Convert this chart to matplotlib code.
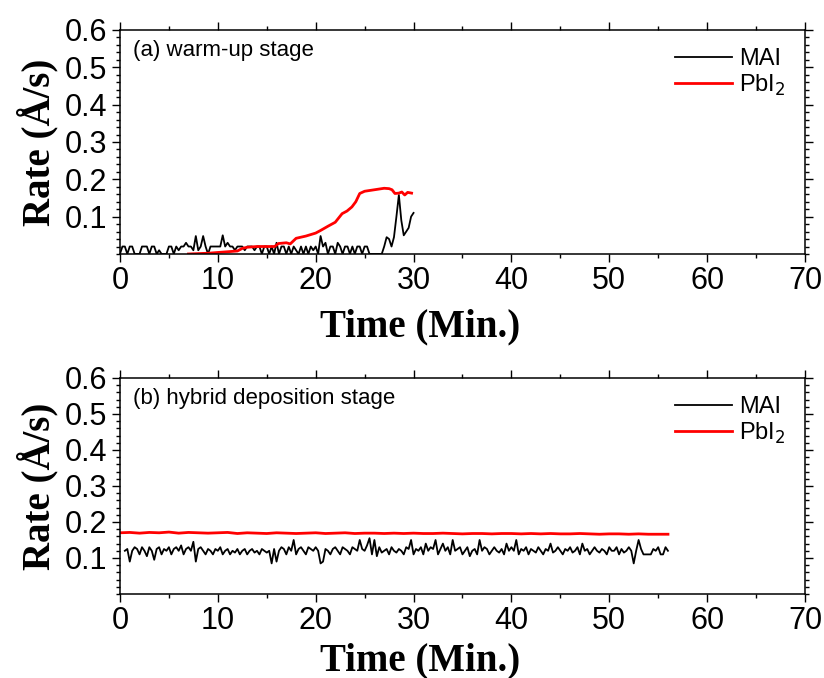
import numpy as np
import matplotlib.pyplot as plt
from matplotlib.ticker import MultipleLocator

# ---- data ----
# (a) warm-up stage, MAI sampled every 0.25 min from t = 0
mai_a = [
    0, 0.02, 0.02, 0, 0.02, 0.02, 0, 0, 0, 0.02, 0.02, 0.02, 0, 0.02, 0.02, 0, 0.01, 0, 0, 0,
    0.02, 0.02, 0, 0.02, 0.01, 0.02, 0.02, 0.03, 0.02, 0.02, 0.01, 0.048, 0.01, 0.02, 0.048, 0.02, 0, 0.02, 0.02, 0.02,
    0.02, 0.02, 0.05, 0.02, 0.03, 0.02, 0.02, 0.01, 0.02, 0.02, 0.02, 0.01, 0.02, 0.02, 0.02, 0.01, 0.02, 0.02, 0, 0.02,
    0.02, 0, 0.02, 0, 0.03, 0, 0.02, 0.02, 0, 0.02, 0, 0.02, 0.01, 0, 0.02, 0, 0.02, 0, 0.02, 0.01,
    0.02, 0, 0.048, 0.02, 0.03, 0, 0.02, 0.02, 0, 0.03, 0.02, 0, 0.02, 0.02, 0, 0.02, 0, 0.02, 0.02, 0,
    0.02, 0.02, 0, 0, 0, 0, 0, 0, 0.02, 0.045, 0.04, 0.02, 0.045, 0.1, 0.158, 0.09, 0.05, 0.06, 0.07, 0.1,
    0.11,
]
pbi_a_t = [7, 9, 11, 12, 12.5, 13, 14, 15, 15.8, 16.2, 17.0, 17.4, 18, 19, 20, 20.5, 21.3, 22, 22.7, 23.2,
           23.7, 24.1, 24.5, 25, 25.5, 26, 26.5, 27, 27.5, 27.8, 28.1, 28.5, 28.8, 29.1, 29.4, 29.8]
pbi_a = [0, 0.002, 0.006, 0.008, 0.015, 0.018, 0.02, 0.02, 0.02, 0.028, 0.03, 0.027, 0.042, 0.048, 0.056,
         0.063, 0.075, 0.085, 0.108, 0.115, 0.126, 0.14, 0.162, 0.168, 0.17, 0.172, 0.174, 0.176, 0.175,
         0.172, 0.162, 0.163, 0.166, 0.158, 0.165, 0.163]

# (b) hybrid deposition stage, MAI every 0.25 min from t = 0.5
mai_b = [
    0.12, 0.125, 0.09, 0.12, 0.13, 0.125, 0.11, 0.13, 0.12, 0.105, 0.13, 0.12, 0.095, 0.125, 0.13, 0.11, 0.125, 0.12, 0.13, 0.11,
    0.125, 0.13, 0.12, 0.135, 0.11, 0.125, 0.13, 0.12, 0.145, 0.09, 0.125, 0.13, 0.12, 0.11, 0.125, 0.12, 0.11, 0.125, 0.12, 0.13,
    0.11, 0.12, 0.125, 0.11, 0.12, 0.115, 0.125, 0.11, 0.12, 0.125, 0.11, 0.12, 0.125, 0.115, 0.12, 0.11, 0.125, 0.12, 0.115, 0.12,
    0.085, 0.125, 0.09, 0.12, 0.13, 0.125, 0.11, 0.13, 0.12, 0.15, 0.11, 0.125, 0.13, 0.12, 0.11, 0.13, 0.125, 0.12, 0.13, 0.12,
    0.085, 0.09, 0.125, 0.12, 0.11, 0.125, 0.13, 0.12, 0.11, 0.13, 0.125, 0.12, 0.11, 0.13, 0.125, 0.12, 0.15, 0.125, 0.12, 0.135,
    0.155, 0.11, 0.15, 0.105, 0.13, 0.115, 0.12, 0.125, 0.11, 0.13, 0.12, 0.115, 0.125, 0.12, 0.11, 0.13, 0.125, 0.15, 0.11, 0.125,
    0.12, 0.13, 0.11, 0.14, 0.12, 0.13, 0.125, 0.15, 0.11, 0.125, 0.14, 0.12, 0.13, 0.11, 0.15, 0.12, 0.125, 0.13, 0.11, 0.12,
    0.13, 0.105, 0.12, 0.125, 0.11, 0.15, 0.12, 0.13, 0.125, 0.11, 0.12, 0.13, 0.12, 0.115, 0.125, 0.11, 0.14, 0.12, 0.13, 0.12,
    0.15, 0.11, 0.125, 0.12, 0.13, 0.11, 0.125, 0.12, 0.115, 0.13, 0.12, 0.11, 0.125, 0.12, 0.14, 0.115, 0.12, 0.13, 0.12, 0.11,
    0.125, 0.12, 0.13, 0.115, 0.12, 0.13, 0.11, 0.14, 0.12, 0.125, 0.11, 0.12, 0.13, 0.12, 0.115, 0.125, 0.12, 0.11, 0.13, 0.12,
    0.12, 0.13, 0.11, 0.125, 0.115, 0.12, 0.13, 0.12, 0.085, 0.12, 0.15, 0.125, 0.11, 0.11, 0.11, 0.11, 0.125, 0.12, 0.13, 0.11,
    0.11, 0.13, 0.12,
]
# PbI2 every 1 min from t = 0
pbi_b = [0.170, 0.171, 0.169, 0.171, 0.170, 0.172, 0.169, 0.171, 0.170, 0.169, 0.170, 0.171, 0.168, 0.170,
         0.169, 0.168, 0.170, 0.169, 0.168, 0.169, 0.170, 0.168, 0.169, 0.170, 0.168, 0.169, 0.169, 0.168,
         0.169, 0.168, 0.169, 0.168, 0.168, 0.169, 0.168, 0.167, 0.168, 0.168, 0.167, 0.168, 0.168, 0.167,
         0.168, 0.167, 0.168, 0.167, 0.167, 0.168, 0.167, 0.166, 0.167, 0.167, 0.166, 0.167, 0.166, 0.166,
         0.166]

panel_titles = ["(a) warm-up stage", "(b) hybrid deposition stage"]
y_ticks = [0.1, 0.2, 0.3, 0.4, 0.5, 0.6]

t_mai_a = np.arange(len(mai_a)) * 0.25
t_mai_b = 0.5 + np.arange(len(mai_b)) * 0.25
t_pbi_b = np.arange(len(pbi_b)) * 1.0

sans = ["Liberation Sans", "DejaVu Sans"]
serif = ["Liberation Serif", "DejaVu Serif"]

fig = plt.figure(figsize=(8.24, 6.78), dpi=100)
ax1 = fig.add_axes([0.1456, 0.6254, 0.8313, 0.3304])
ax2 = fig.add_axes([0.1456, 0.1239, 0.8313, 0.3186])

series = [
    (ax1, t_mai_a, mai_a, pbi_a_t, pbi_a, panel_titles[0], -0.325),
    (ax2, t_mai_b, mai_b, t_pbi_b, pbi_b, panel_titles[1], -0.31),
]

for ax, tm, ym, tp, yp, title, xlab_y in series:
    ax.plot(tm, ym, color="black", lw=1.3, label="MAI")
    ax.plot(tp, yp, color="#ff0000", lw=2.0, label="PbI$_2$")
    ax.set_xlim(0, 70)
    ax.set_ylim(0, 0.6)
    ax.set_yticks(y_ticks)
    ax.xaxis.set_major_locator(MultipleLocator(10))
    ax.xaxis.set_minor_locator(MultipleLocator(5))
    ax.yaxis.set_minor_locator(MultipleLocator(0.02))
    ax.tick_params(which="both", direction="out", top=True, right=True, width=1)
    ax.tick_params(which="major", length=6, labelsize=22, pad=3)
    ax.tick_params(which="minor", length=3)
    for lab in ax.get_xticklabels() + ax.get_yticklabels():
        lab.set_family(sans)
    for s in ax.spines.values():
        s.set_linewidth(1.1)
    ax.text(0.019, 0.955, title, transform=ax.transAxes, ha="left", va="top",
            fontsize=16, family=sans)
    ax.legend(loc="upper right", bbox_to_anchor=(0.985, 0.96), frameon=False,
              prop={"family": sans, "size": 17}, handlelength=2.4,
              handletextpad=0.3, labelspacing=0.1, borderaxespad=0)
    ax.set_xlabel("Time (Min.)", family=serif, fontweight="bold", fontsize=28)
    ax.xaxis.set_label_coords(0.438, xlab_y)
    ax.xaxis.label.set_va("center")
    ax.set_ylabel("Rate (Å/s)", family=serif, fontweight="bold", fontsize=28)
    ax.yaxis.set_label_coords(-0.12, 0.5)
    ax.yaxis.label.set_va("center")

fig.savefig("out.png", dpi=100)
